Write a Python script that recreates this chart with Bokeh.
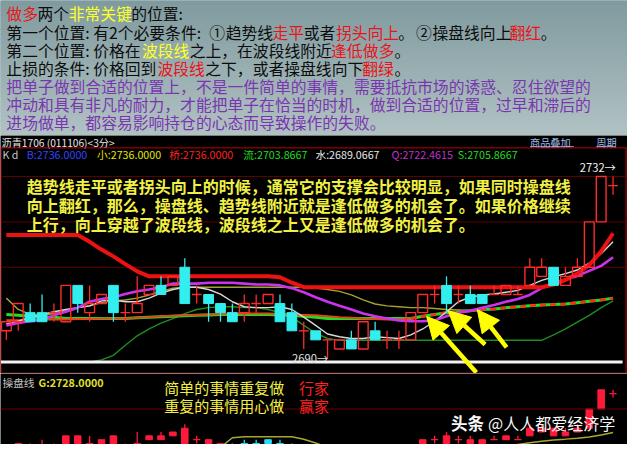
import numpy as np
from bokeh.plotting import figure
from bokeh.layouts import column
from bokeh.models import Range1d, Label, Arrow, NormalHead, Span
from bokeh.embed import file_html
from bokeh.resources import INLINE

NAN = float("nan")

# ---------------- data ----------------
bar_index = list(range(52))
open_px = [2696, 2698, 2700, 2700, 2700, 2698, 2706, 2700, 2702, 2706,
           2700, 2700, 2704, 2706, 2706, 2710, 2704, 2704, 2702, 2700,
           2700, 2702, 2702, 2702, 2700, 2696, 2696, 2694, 2692, 2694,
           2692, 2696, 2694, 2694, 2694, 2700, 2704, 2706, 2704, 2704,
           2704, 2704, 2704, 2704, 2706, 2708, 2710, 2706, 2708, 2710,
           2720, 2728]
high_px = [2698, 2702, 2702, 2704, 2702, 2706, 2706, 2706, 2704, 2706,
           2702, 2708, 2706, 2708, 2708, 2712, 2706, 2704, 2702, 2702,
           2704, 2704, 2704, 2704, 2702, 2698, 2696, 2694, 2694, 2696,
           2698, 2698, 2696, 2696, 2700, 2704, 2706, 2708, 2706, 2706,
           2704, 2706, 2706, 2706, 2712, 2712, 2710, 2710, 2712, 2720,
           2730, 2730]
low_px = [2694, 2696, 2698, 2698, 2698, 2698, 2700, 2698, 2702, 2698,
          2698, 2700, 2704, 2704, 2706, 2702, 2702, 2698, 2698, 2698,
          2698, 2700, 2702, 2698, 2696, 2692, 2694, 2690, 2692, 2692,
          2692, 2694, 2692, 2692, 2694, 2700, 2702, 2700, 2702, 2702,
          2702, 2704, 2704, 2704, 2706, 2708, 2706, 2706, 2708, 2710,
          2720, 2726]
close_px = [2698, 2702, 2698, 2698, 2700, 2706, 2702, 2702, 2704, 2700,
            2700, 2702, 2706, 2704, 2708, 2702, 2704, 2702, 2700, 2698,
            2702, 2702, 2704, 2698, 2696, 2696, 2694, 2694, 2694, 2692,
            2698, 2694, 2694, 2694, 2700, 2704, 2704, 2702, 2704, 2702,
            2702, 2704, 2706, 2704, 2710, 2710, 2706, 2708, 2710, 2720,
            2730, 2728]

wave_line = [2717.1, 2717.1, 2717.1, 2717.1, 2717.1, 2717.1, 2717.1, 2715.6, 2713.9, 2712.4,
             2710.7, 2709.1, 2708.0, 2708.0, 2708.0, 2708.0, 2708.0, 2708.0, 2708.0, 2708.0,
             2708.0, 2708.0, 2708.0, 2707.8, 2706.6, 2705.6, 2705.6, 2705.6, 2705.6, 2705.6,
             2705.6, 2705.6, 2705.6, 2705.6, 2705.6, 2705.6, 2705.6, 2705.6, 2705.6, 2705.6,
             2705.6, 2705.6, 2705.6, 2705.6, 2705.6, 2705.6, 2706.2, 2707.2, 2708.6, 2710.5,
             2713.5, 2717.5]
trend_purple = [2697.2, 2697.7, 2698.1, 2698.5, 2699.4, 2700.2, 2701.1, 2702.4, 2703.0, 2703.4,
                2704.1, 2704.7, 2705.1, 2705.6, 2706.4, 2706.4, 2706.4, 2706.6, 2706.6, 2706.6,
                2706.4, 2706.2, 2706.2, 2706.0, 2705.4, 2704.5, 2703.4, 2702.4, 2701.5, 2700.7,
                2699.8, 2699.2, 2698.7, 2698.3, 2698.1, 2698.1, 2698.3, 2699.2, 2700.0, 2700.4,
                2701.1, 2701.7, 2702.4, 2703.0, 2703.9, 2705.4, 2706.6, 2707.3, 2708.1, 2709.2,
                2710.3, 2712.2]
ma_white = [2697.5, 2698.1, 2699.0, 2699.6, 2700.2, 2700.7, 2701.1, 2701.5, 2702.6, 2702.8,
            2702.4, 2702.4, 2703.2, 2704.3, 2705.1, 2705.6, 2705.6, 2705.1, 2704.1, 2702.4,
            2701.3, 2701.1, 2701.1, 2701.3, 2700.7, 2699.0, 2697.2, 2695.3, 2694.7, 2694.3,
            2694.3, 2694.7, 2694.5, 2694.3, 2695.1, 2696.4, 2698.1, 2700.2, 2702.4, 2703.4,
            2703.9, 2704.1, 2704.5, 2704.9, 2706.0, 2707.1, 2707.9, 2708.6, 2709.4, 2710.9,
            2713.0, 2715.6]
ma_olive = [2703.2, 2700.7, 2699.6, 2699.4, 2699.8, 2700.4, 2701.1, 2701.5, 2702.2, 2702.6,
            2702.8, 2703.2, 2703.9, 2704.7, 2705.4, 2705.6, 2705.6, 2705.6, 2705.6, 2705.6,
            2705.6, 2705.6, 2705.6, 2705.6, 2705.6, 2705.6, 2705.4, 2705.1, 2704.7, 2703.9,
            2702.8, 2701.9, 2701.5, 2701.3, 2701.1, 2701.1, 2700.9, 2700.7, 2700.6, 2700.5,
            NAN, NAN, NAN, NAN, NAN, NAN, NAN, NAN, NAN, NAN, NAN, NAN]
ma_orange = [2698.3, 2698.3, 2698.4, 2698.5, 2698.5, 2698.5, 2698.6, 2698.6, 2698.7, 2698.7,
             2698.7, 2698.85, 2699.0, 2699.2, 2699.3, 2699.4, 2699.5, 2699.6, 2699.7, 2699.8,
             2699.8, 2699.8, 2699.8, 2699.7, 2699.6, 2699.5, 2699.4, 2699.2, 2699.0, 2698.85,
             2698.7, 2698.6, 2698.5, 2698.5, 2698.7, 2699.2, 2699.6, 2700.0, 2700.2, 2700.4,
             2700.7, 2700.8, 2701.1, 2701.3, 2701.5, 2701.7, 2701.8, 2701.9, 2702.2, 2702.5,
             2702.8, 2703.2]
ma_green = [2699.6, 2699.4, 2699.2, 2699.0, 2699.0, 2698.7, 2698.7, 2698.7, 2698.7, 2698.7,
            2698.7, 2698.85, 2699.0, 2699.1, 2699.2, 2699.3, 2699.4, 2699.5, 2699.6, 2699.6,
            2699.6, 2699.6, 2699.6, 2699.5, 2699.4, 2699.2, 2699.0, 2698.7, 2698.7, 2698.7,
            2698.7, 2698.7, 2698.7, 2698.7, 2698.7, 2699.2, 2699.6, 2700.0, 2700.2, 2700.4,
            2700.7, 2700.8, 2701.1, 2701.3, 2701.5, 2701.7, 2701.8, 2701.9, 2702.2, 2702.5,
            2702.8, 2703.2]
band_darkgreen = [NAN, NAN, NAN, NAN, NAN, NAN, NAN, 2689.1, 2689.6, 2690.6,
                  2692.8, 2694.9, 2696.4, 2697.7, 2698.7, 2699.8, 2700.7, 2701.1, 2701.3, 2701.3,
                  2701.1, 2701.1, 2700.7, 2700.0, 2699.0, 2697.2, 2695.5, 2694.3, 2693.9, 2693.9,
                  2693.9, 2693.9, 2693.9, 2693.9, 2693.9, 2693.9, 2693.9, 2693.9, 2693.9, 2693.9,
                  2693.9, 2693.9, 2693.9, 2693.9, 2693.9, 2693.9, 2695.1, 2696.4, 2697.9, 2699.4,
                  2701.1, 2702.6]
# 操盘线 state: 1 = red (up), 0 = green/cyan (down)
op_state = [1] * 19 + [0] * 16 + [1] * 17
op_line = [NAN] * 18 + [2700.0, 2705.0, 2705.5, 2705.5, 2705.5, 2705.5, 2705.5, 2704.2, 2702.3, 2700.0] \
          + [NAN] * 14 + [2699.5, 2701.5, 2702.4, 2703.2, 2703.9, 2704.3, 2704.8, 2705.4, 2706.5, 2707.7]
support_level = 2689.1
label_high = 2732
label_low = 2690
grid_prices = [2710, 2720, 2730]
bottom_grid = [2720]
quote_texts = ["K  d", "B:2736.0000", "小:2736.0000", "桥:2736.0000", "流:2703.8667",
               "水:2689.0667", "Q:2722.4615", "S:2705.8667"]
g_text = "G:2728.0000"

# ---------------- styling helpers ----------------
W = 627
S = 0.97
FONT = "Noto Sans CJK SC"
RED = "#ff2a2a"
CYAN = "#33eeee"
BLACK = "#0c0c0c"
TRED = "#e8141a"
TYEL = "#ffff26"
PURP = "#7a35b0"


def fs(v):
    return f"{v * S:.1f}px"


def mx(px):
    return (px - 6) / 12.2


def my(py):
    return 2690 + (370 - py) / 4.69


def by(py):
    return 2730 - (py - 403) / 2.0


def base_fig(h, xr, yr, bg):
    p = figure(width=W, height=h, x_range=xr, y_range=yr, output_backend="svg",
               toolbar_location=None, min_border=0, x_axis_location=None,
               y_axis_location=None, background_fill_color=bg, border_fill_color=bg)
    p.grid.visible = False
    p.outline_line_color = None
    return p


def lab(p, x, y, text, color, size, weight="normal", align="left"):
    p.add_layout(Label(x=x, y=y, text=text, text_color=color, text_font=FONT,
                       text_font_size=fs(size), text_font_style=weight,
                       text_baseline="middle", text_align=align))


# ---------------- top text panel ----------------
top = base_fig(135, Range1d(0, 643), Range1d(140, 0), "#97adb0")
n = 28
c0 = (0x80, 0x9b, 0x9f)
c1 = (0xb0, 0xc1, 0xc2)
band_top, band_bot, band_col = [], [], []
for k in range(n):
    t = k / (n - 1)
    band_col.append("#%02x%02x%02x" % tuple(int(round(a + (b - a) * t)) for a, b in zip(c0, c1)))
    band_top.append(140 * k / n)
    band_bot.append(140 * (k + 1) / n)
top.quad(left=0, right=643, top=band_top, bottom=band_bot, fill_color=band_col, line_color=band_col)

segments = [
    (13, [("做多", TRED, 6), ("两个", BLACK, 38), ("非常关键", TYEL, 70), ("的位置:", BLACK, 134)]),
    (33, [("第一个位置:", BLACK, 6), ("有2个必要条件:", BLACK, 95), ("①", BLACK, 214),
          ("趋势线", BLACK, 231), ("走平", TRED, 279), ("或者", BLACK, 311), ("拐头向上", TRED, 344),
          ("。", BLACK, 408), ("②", BLACK, 426), ("操盘线向上", BLACK, 443),
          ("翻红", TRED, 522), ("。", BLACK, 554)]),
    (52, [("第二个位置:", BLACK, 6), ("价格在", BLACK, 95), ("波段线", TYEL, 145),
          ("之上，在波段线附近", BLACK, 194), ("逢低做多", TRED, 339), ("。", BLACK, 404)]),
    (71, [("止损的条件:", BLACK, 6), ("价格回到", BLACK, 95), ("波段线", TRED, 161),
          ("之下，或者操盘线向下", BLACK, 210), ("翻绿", TRED, 371), ("。", BLACK, 404)]),
    (89, [("把单子做到合适的位置上，不是一件简单的事情，需要抵抗市场的诱惑、忍住欲望的", PURP, 6)]),
    (107.5, [("冲动和具有非凡的耐力，才能把单子在恰当的时机，做到合适的位置，过早和滞后的", PURP, 6)]),
    (126, [("进场做单，都容易影响持仓的心态而导致操作的失败。", PURP, 6)]),
]
for yy, segs in segments:
    for text, col, xx in segs:
        lab(top, xx, yy, text, col, 16.3)

# ---------------- main candle panel (with header row) ----------------
main = base_fig(238, Range1d(mx(0), mx(643)), Range1d(my(386), my(140)), "#000000")

# header row
lab(main, mx(1), my(147), "沥青1706 (011106)<3分>", "#e6e6e6", 10.5)
lab(main, mx(543), my(147), "商品叠加", "#9dbbe8", 10.5)
lab(main, mx(611), my(147), "周期", "#9dbbe8", 10.5)
main.segment(x0=[mx(543), mx(611)], y0=[my(151.5)] * 2, x1=[mx(588), mx(631)], y1=[my(151.5)] * 2,
             line_color="#7f9fd0", line_width=1)

# panel frame
main.add_layout(Span(location=my(152.8), dimension="width", line_color="#c00000", line_width=1))
main.add_layout(Span(location=my(385.6), dimension="width", line_color="#c00000", line_width=1))
main.segment(x0=[mx(641.5), mx(0.5)], y0=[my(153)] * 2, x1=[mx(641.5), mx(0.5)], y1=[my(386)] * 2,
             line_color="#c00000", line_width=1)
for gp in grid_prices:
    main.segment(x0=[mx(1)], y0=[gp], x1=[mx(641)], y1=[gp], line_color="#5e0000", line_width=1)

quote_x = [2, 27, 99, 173, 249, 323, 401, 469]
quote_c = ["#c8c8c8", "#3344ff", "#e6e600", "#ff2020", "#22dd22", "#e8e8e8", "#c030d0", "#22dd22"]
for t, xx, cc in zip(quote_texts, quote_x, quote_c):
    lab(main, mx(xx), my(160), t, cc, 11)

x_arr = np.array(bar_index, dtype=float)
orange = np.array(ma_orange, dtype=float)
orange_solid = np.where(x_arr <= 34, orange, np.nan)
orange_dash = np.where(x_arr >= 34, orange, np.nan)

main.line(x_arr, np.array(band_darkgreen, dtype=float), line_color="#1e8e1e", line_width=1.4)
main.line(x_arr, np.array(ma_olive, dtype=float), line_color="#a3a332", line_width=1.4)
main.line(x_arr, np.array(ma_green, dtype=float), line_color="#22dd22", line_width=3)
main.line(x_arr, orange_solid, line_color="#e0481a", line_width=2)
main.line(x_arr, orange_dash, line_color="#ff2a1a", line_width=2.5, line_dash="6 4")
main.line(x_arr, np.array(ma_white, dtype=float), line_color="#d8d8d8", line_width=1.4)
main.line(x_arr, np.array(trend_purple, dtype=float), line_color="#cc33ee", line_width=2.6)
main.line(x_arr, np.array(wave_line, dtype=float), line_color="#ee1111", line_width=4)

o = np.array(open_px, dtype=float)
h = np.array(high_px, dtype=float)
lo = np.array(low_px, dtype=float)
c = np.array(close_px, dtype=float)
btop = np.maximum(o, c)
bbot = np.minimum(o, c)
up = c >= o
doji = o == c
wick_col = [RED if u else CYAN for u in up]
BW = 0.82

main.segment(x0=x_arr, y0=btop, x1=x_arr, y1=h, line_color=wick_col, line_width=1.3)
main.segment(x0=x_arr, y0=lo, x1=x_arr, y1=bbot, line_color=wick_col, line_width=1.3)
hol = up & ~doji
main.vbar(x=x_arr[hol], width=BW, top=btop[hol], bottom=bbot[hol], fill_alpha=0,
          line_color=RED, line_width=1.4)
dn = ~up
main.vbar(x=x_arr[dn], width=BW, top=btop[dn], bottom=bbot[dn], fill_color=CYAN,
          line_color=CYAN, line_width=1)
main.segment(x0=x_arr[doji] - BW / 2, y0=o[doji], x1=x_arr[doji] + BW / 2, y1=o[doji],
             line_color=RED, line_width=1.4)

main.line([x_arr[0] - 0.45, x_arr[-1] + 0.8], [support_level, support_level],
          line_color="#f2f2f2", line_width=3)

lab(main, mx(631), label_high, f"{label_high}→", "#f0f0f0", 11.5, align="right")
lab(main, mx(336), label_low, f"{label_low}→", "#e0e0e0", 11.5, align="right")

yellow_lines = [
    "趋势线走平或者拐头向上的时候，通常它的支撑会比较明显，如果同时操盘线",
    "向上翻红，那么，操盘线、趋势线附近就是逢低做多的机会了。如果价格继续",
    "上行，向上穿越了波段线，波段线之上又是逢低做多的机会了。",
]
for t, yy in zip(yellow_lines, [192, 212, 231]):
    lab(main, mx(27), my(yy), t, "#f0f046", 16.5, weight="bold")

for tx, ty, hx, hy in [(488, 385, 437, 327), (497, 356, 459, 321), (519, 359, 489, 320)]:
    main.add_layout(Arrow(end=NormalHead(size=22, fill_color="#ffff00", line_color="#ffff00"),
                          x_start=mx(tx), y_start=my(ty), x_end=mx(hx), y_end=my(hy),
                          line_color="#ffff00", line_width=4.5))

# ---------------- bottom (操盘线) panel ----------------
bot = base_fig(71, Range1d(mx(0), mx(643)), Range1d(by(460), by(386)), "#000000")
for gp in bottom_grid:
    bot.add_layout(Span(location=gp, dimension="width", line_color="#6a0000", line_width=1))
st = np.array(op_state) == 1
op_col = ["#ff1a3a" if s else "#22ddff" for s in st]
bot.segment(x0=x_arr, y0=lo, x1=x_arr, y1=h, line_color=op_col, line_width=1.3)
nd = ~doji
bot.vbar(x=x_arr[nd], width=0.55, top=btop[nd], bottom=bbot[nd],
         fill_color=[cc for cc, k in zip(op_col, nd) if k],
         line_color=[cc for cc, k in zip(op_col, nd) if k])
bot.segment(x0=x_arr[doji] - 0.3, y0=o[doji], x1=x_arr[doji] + 0.3, y1=o[doji],
            line_color=[cc for cc, k in zip(op_col, doji) if k], line_width=1.3)
bot.line(x_arr, np.array(op_line, dtype=float), line_color="#a8a830", line_width=1.5)

lab(bot, mx(2), by(395), "操盘线", "#c0c0c0", 11)
lab(bot, mx(39), by(395), g_text, "#e0e030", 11, weight="bold")
lab(bot, mx(168), by(401), "简单的事情重复做", "#f0f040", 15.5)
lab(bot, mx(306), by(401), "行家", "#ff2020", 15.5)
lab(bot, mx(168), by(419), "重复的事情用心做", "#f0f040", 15.5)
lab(bot, mx(306), by(419), "赢家", "#ff2020", 15.5)
lab(bot, mx(462), by(438), "头条", "#f8f8f8", 17, weight="bold")
lab(bot, mx(500), by(438), "@人人都爱经济学", "#f8f8f8", 16.5)

layout = column(top, main, bot, spacing=0)
open("out.html", "w").write(file_html(layout, INLINE))
